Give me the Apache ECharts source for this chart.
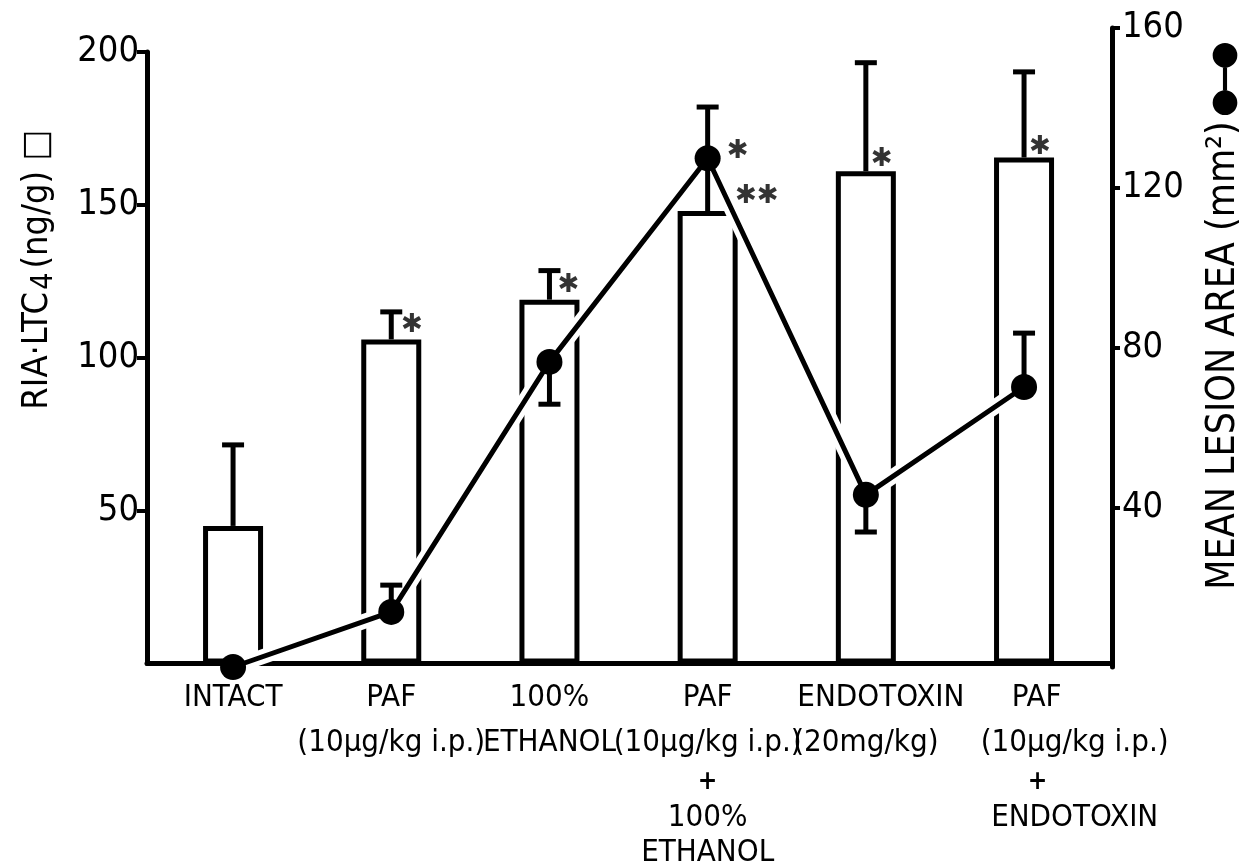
<!DOCTYPE html>
<html>
<head>
<meta charset="utf-8">
<script src="https://cdn.jsdelivr.net/npm/echarts@6/dist/echarts.min.js"></script>
<style>
  html, body { margin: 0; padding: 0; background: #fff; }
  #chart { width: 1258px; height: 868px; }
</style>
</head>
<body>
<div id="chart"></div>
<script>
// ---- data ----
const categoryLines = [
  ['INTACT'],
  ['PAF', '(10µg/kg i.p.)'],
  ['100%', 'ETHANOL'],
  ['PAF', '(10µg/kg i.p.)', '+', '100%', 'ETHANOL'],
  ['ENDOTOXIN', '(20mg/kg)'],
  ['PAF', '(10µg/kg i.p.)', '+', 'ENDOTOXIN']
];
const ltc4Values   = [45, 106, 119, 148, 161, 165.5];   // RIA LTC4 (ng/g), bars, left axis
const ltc4ErrTop   = [71.5, 115, 128.5, 182, 196.5, 193.5];
const lesionArea   = [0, 13.8, 76.4, 127.4, 43.1, 70.1]; // mm2, line, right axis
const lesionErrEnd = [null, 20.5, 65.8, null, 33.8, 83.6];
const leftTicks  = { min: 0, max: 200, interval: 50 };
const rightTicks = { min: 0, max: 160, interval: 40 };
const starX    = [1.13, 2.12, 3.19, 3.31, 4.10, 5.10];
const starY    = [110.6, 123.6, 167.5, 152.8, 164.9, 168.8];
const starText = ['✱', '✱', '✱', '✱✱', '✱', '✱'];

// ---- chart ----
const FF = "'Liberation Sans Narrow','DejaVu Sans Condensed','Roboto Condensed','Arial Narrow',sans-serif";
const XMIN = -0.544, XMAX = 5.556;
// label anchors: the last group's text block sits a bit to the right of its bar in the original
const labelAnchors = categoryLines.map((_, i) => (i === 5 ? 5.32 : i));

const barData = ltc4Values.map((v, i) => [i, v]);
const barErrData = ltc4Values.map((v, i) => [i, v, ltc4ErrTop[i]]);
const lineData = lesionArea.map((v, i) => [i, v]);
const lineErrData = [];
lesionErrEnd.forEach((e, i) => { if (e != null) lineErrData.push([i, lesionArea[i], e]); });
const starData = starX.map((x, i) => ({ value: [x, starY[i]], label: { formatter: starText[i] } }));

function errRender(params, api) {
  const p0 = api.coord([api.value(0), api.value(1)]);
  const p1 = api.coord([api.value(0), api.value(2)]);
  const st = { stroke: '#000', lineWidth: 5 };
  return {
    type: 'group',
    children: [
      { type: 'line', shape: { x1: p0[0], y1: p0[1], x2: p1[0], y2: p1[1] }, style: st },
      { type: 'line', shape: { x1: p1[0] - 11, y1: p1[1], x2: p1[0] + 11, y2: p1[1] }, style: st }
    ]
  };
}

function catLabel(v) {
  const i = Math.round(v);
  const lines = categoryLines[i] || [];
  return lines.map((t, k) => {
    let s;
    if (t === '+') s = 'pl';
    else s = 'l' + k;
    if (i === 5 && (k === 0 || k === 2)) s += 'L';
    if (i === 4 && k === 0) s = 'e0';
    return '{' + s + '|' + t + '}';
  }).join('\n');
}

const base = { fontFamily: FF, color: '#000', fontSize: 31 };
const rich = {
  l0: Object.assign({}, base, { lineHeight: 44 }),
  l1: Object.assign({}, base, { lineHeight: 46 }),
  pl: Object.assign({}, base, { fontSize: 26, fontWeight: 'bold', lineHeight: 34 }),
  l3: Object.assign({}, base, { lineHeight: 36 }),
  l4: Object.assign({}, base, { lineHeight: 34 }),
  e0: Object.assign({}, base, { lineHeight: 44, padding: [0, 0, 0, 30] }),
  l0L: Object.assign({}, base, { lineHeight: 44, padding: [0, 76, 0, 0] }),
  plL: Object.assign({}, base, { fontSize: 26, fontWeight: 'bold', lineHeight: 34, padding: [0, 74, 0, 0] })
};

const chart = echarts.init(document.getElementById('chart'), null, { renderer: 'canvas' });
chart.setOption({
  backgroundColor: '#fff',
  animation: false,
  textStyle: { fontFamily: FF, color: '#000' },
  legend: {
    data: ['MEAN LESION AREA'],
    left: 1207, top: 38,
    itemWidth: 26, itemHeight: 72,
    selectedMode: false,
    icon: 'path://M1,13 A12,12 0 1,1 25,13 A12,12 0 1,1 1,13 Z M1,59 A12,12 0 1,1 25,59 A12,12 0 1,1 1,59 Z M11,25 L15,25 L15,47 L11,47 Z',
    formatter: () => '',
    itemGap: 0
  },
  grid: [
    { left: 147, right: 146, top: 52, bottom: 201 },
    { left: 147, right: 146, top: 28, bottom: 201 }
  ],
  xAxis: [
    {
      gridIndex: 0, type: 'value', min: XMIN, max: XMAX,
      axisLine: { show: true, onZero: false, lineStyle: { color: '#000', width: 5 } },
      axisTick: { show: false },
      splitLine: { show: false },
      axisLabel: {
        customValues: labelAnchors,
        formatter: catLabel,
        rich: rich,
        margin: 12,
        color: '#000',
        hideOverlap: false,
        showMinLabel: true,
        showMaxLabel: true
      }
    },
    {
      gridIndex: 1, type: 'value', min: XMIN, max: XMAX, show: false,
      axisLine: { onZero: false },
      splitLine: { show: false }
    }
  ],
  yAxis: [
    {
      gridIndex: 0, type: 'value', position: 'left',
      min: leftTicks.min, max: leftTicks.max, interval: leftTicks.interval,
      axisLine: { show: true, onZero: false, lineStyle: { color: '#000', width: 5 } },
      axisTick: { show: true, inside: false, length: 10, lineStyle: { color: '#000', width: 4 } },
      splitLine: { show: false },
      axisLabel: { showMinLabel: false, fontSize: 36, fontFamily: FF, color: '#000', margin: 8 },
      name: '{a|RIA·LTC}{s|4}{a|(ng/g) □}',
      nameLocation: 'middle',
      nameRotate: 90,
      nameGap: 88,
      nameTextStyle: {
        padding: [0, 0, 0, 176],
        rich: {
          a: { fontSize: 36, fontFamily: FF, color: '#000', lineHeight: 42 },
          s: { fontSize: 30, fontFamily: FF, color: '#000', lineHeight: 42, verticalAlign: 'bottom', padding: [0, 4, 0, 2] }
        }
      }
    },
    {
      gridIndex: 1, type: 'value', position: 'right',
      min: rightTicks.min, max: rightTicks.max, interval: rightTicks.interval,
      axisLine: { show: true, onZero: false, lineStyle: { color: '#000', width: 5 } },
      axisTick: { show: true, inside: false, length: 8, lineStyle: { color: '#000', width: 4 } },
      splitLine: { show: false },
      axisLabel: { showMinLabel: false, fontSize: 36, fontFamily: FF, color: '#000', margin: 10 },
      name: 'MEAN LESION AREA (mm²)',
      nameLocation: 'middle',
      nameRotate: 90,
      nameGap: 92,
      nameTextStyle: { fontSize: 39, fontFamily: FF, color: '#000', padding: [0, 16, 0, 0] }
    }
  ],
  series: [
    {
      name: 'LTC4', type: 'bar', xAxisIndex: 0, yAxisIndex: 0,
      data: barData, barWidth: 60,
      itemStyle: { color: '#fff', borderColor: '#000', borderWidth: 5 },
      z: 2
    },
    {
      name: 'halo', type: 'line', xAxisIndex: 1, yAxisIndex: 1,
      data: lineData, symbol: 'none',
      lineStyle: { color: '#fff', width: 15 },
      z: 3, silent: true
    },
    {
      name: 'LTC4 error', type: 'custom', xAxisIndex: 0, yAxisIndex: 0,
      data: barErrData, renderItem: errRender, z: 5
    },
    {
      name: 'MEAN LESION AREA', type: 'line', xAxisIndex: 1, yAxisIndex: 1,
      data: lineData, symbol: 'circle', symbolSize: 26,
      lineStyle: { color: '#000', width: 5 },
      itemStyle: { color: '#000' },
      z: 6
    },
    {
      name: 'lesion error', type: 'custom', xAxisIndex: 1, yAxisIndex: 1,
      data: lineErrData, renderItem: errRender, z: 6
    },
    {
      name: 'significance', type: 'scatter', xAxisIndex: 0, yAxisIndex: 0,
      data: starData, symbolSize: 1, itemStyle: { color: 'rgba(0,0,0,0)' },
      label: { show: true, position: 'inside', fontSize: 26, fontFamily: "'DejaVu Sans',sans-serif", color: '#000', fontWeight: 'bold' },
      z: 7
    }
  ]
});
</script>
</body>
</html>
